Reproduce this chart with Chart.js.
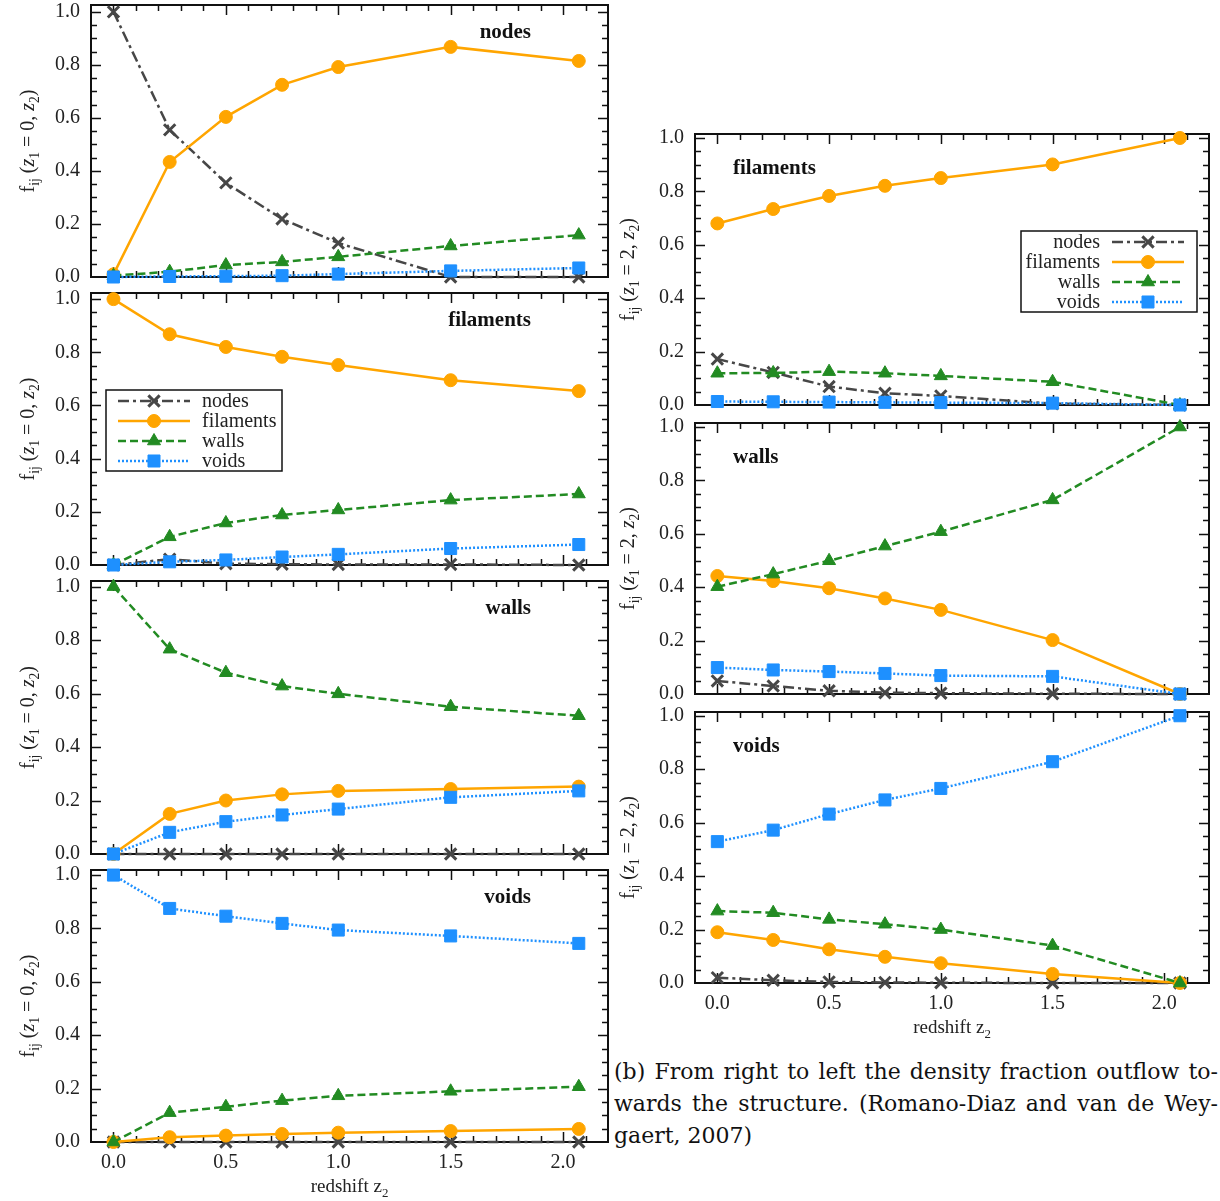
<!DOCTYPE html>
<html lang="en">
<head>
<meta charset="UTF-8">
<title>Density fraction flow between structures</title>
<script src="https://cdn.jsdelivr.net/npm/chart.js"></script>
<style>
    body { margin: 0; background: #fff; }
    #wrap { position: relative; width: 1220px; height: 1201px; overflow: hidden; }
    #wrap canvas { position: absolute; }
    #caption {
        position: absolute; left: 614px; top: 1056px; width: 604px;
        font-family: "DejaVu Serif", serif; font-size: 22px; line-height: 32px;
        color: #111;
    }
    #caption .j { text-align: justify; text-align-last: justify; white-space: nowrap; }
</style>
</head>
<body>
<div id="wrap">
    <div id="caption">
        <div class="j">(b) From right to left the density fraction outflow to-</div>
        <div class="j">wards the structure. (Romano-Diaz and van de Wey-</div>
        <div>gaert, 2007)</div>
    </div>
</div>
<script>
// redshift z2 of each point
const redshift = [0, 0.25, 0.5, 0.75, 1.0, 1.5, 2.07];
const xTicks = [0, 0.5, 1.0, 1.5, 2.0];
const yTicks = [0, 0.2, 0.4, 0.6, 0.8, 1.0];

// left column, z1 = 0 : outflow from nodes / filaments / walls / voids
const l1Nodes     = [1.0, 0.555, 0.355, 0.219, 0.128, 0.0, 0.0];
const l1Filaments = [0.01, 0.434, 0.604, 0.725, 0.792, 0.868, 0.815];
const l1Walls     = [0.005, 0.02, 0.045, 0.057, 0.076, 0.117, 0.158];
const l1Voids     = [0.0, 0.002, 0.003, 0.005, 0.011, 0.023, 0.034];

const l2Nodes     = [0.0, 0.022, 0.005, 0.003, 0.002, 0.002, 0.0];
const l2Filaments = [1.0, 0.868, 0.82, 0.783, 0.752, 0.695, 0.654];
const l2Walls     = [0.0, 0.106, 0.158, 0.188, 0.207, 0.244, 0.267];
const l2Voids     = [0.0, 0.012, 0.019, 0.03, 0.04, 0.062, 0.077];

const l3Nodes     = [0.0, 0.0, 0.0, 0.0, 0.0, 0.0, 0.0];
const l3Filaments = [0.0, 0.15, 0.2, 0.223, 0.236, 0.243, 0.252];
const l3Walls     = [1.0, 0.766, 0.678, 0.628, 0.599, 0.551, 0.517];
const l3Voids     = [0.0, 0.081, 0.121, 0.146, 0.168, 0.212, 0.236];

const l4Nodes     = [0.0, 0.0, 0.0, 0.0, 0.0, 0.0, 0.0];
const l4Filaments = [0.0, 0.018, 0.024, 0.03, 0.035, 0.041, 0.049];
const l4Walls     = [0.0, 0.11, 0.132, 0.155, 0.173, 0.19, 0.207];
const l4Voids     = [1.0, 0.875, 0.846, 0.819, 0.794, 0.772, 0.744];

// right column, z1 = 2 : inflow towards filaments / walls / voids
const r1Nodes     = [0.172, 0.122, 0.069, 0.044, 0.034, 0.005, 0.0];
const r1Filaments = [0.68, 0.734, 0.783, 0.821, 0.85, 0.901, 1.0];
const r1Walls     = [0.119, 0.12, 0.125, 0.119, 0.109, 0.087, 0.0];
const r1Voids     = [0.013, 0.012, 0.011, 0.01, 0.009, 0.007, 0.0];

const r2Nodes     = [0.049, 0.03, 0.012, 0.005, 0.003, 0.001, 0.0];
const r2Filaments = [0.442, 0.423, 0.396, 0.358, 0.315, 0.202, 0.0];
const r2Walls     = [0.402, 0.449, 0.499, 0.554, 0.608, 0.727, 1.0];
const r2Voids     = [0.099, 0.09, 0.084, 0.077, 0.069, 0.066, 0.0];

const r3Nodes     = [0.02, 0.01, 0.004, 0.002, 0.001, 0.0, 0.0];
const r3Filaments = [0.19, 0.161, 0.126, 0.098, 0.074, 0.034, 0.0];
const r3Walls     = [0.269, 0.263, 0.238, 0.22, 0.2, 0.14, 0.0];
const r3Voids     = [0.529, 0.572, 0.632, 0.685, 0.728, 0.828, 1.0];

const SERIF = '"Liberation Serif", "Times New Roman", serif';

const seriesNames = ['nodes', 'filaments', 'walls', 'voids'];
const seriesStyle = {
    nodes:     { color: '#474747', dash: [11, 4, 3, 4], point: 'crossRot', radius: 8,   bw: 3, order: 3 },
    filaments: { color: '#ffa500', dash: [],            point: 'circle',   radius: 6.5, bw: 1, order: 2 },
    walls:     { color: '#228b22', dash: [8, 4],        point: 'triangle', radius: 7.5, bw: 1, order: 1 },
    voids:     { color: '#1e90ff', dash: [2, 2],        point: 'rect',     radius: 8.5, bw: 1, order: 0 }
};

const columns = [
    { canvasLeft: 0,   left: 91,  right: 608,  titleX: 28, z1: '0' },
    { canvasLeft: 606, left: 695, right: 1213, titleX: 22, z1: '2' }
];

const panels = [
    { col: 0, top: 5,   bottom: 277,  ymax: 1.026, title: 'nodes',     values: [l1Nodes, l1Filaments, l1Walls, l1Voids] },
    { col: 0, top: 293, bottom: 565,  ymax: 1.023, title: 'filaments', values: [l2Nodes, l2Filaments, l2Walls, l2Voids], legend: 'left' },
    { col: 0, top: 581, bottom: 854,  ymax: 1.021, title: 'walls',     values: [l3Nodes, l3Filaments, l3Walls, l3Voids] },
    { col: 0, top: 870, bottom: 1142, ymax: 1.019, title: 'voids',     values: [l4Nodes, l4Filaments, l4Walls, l4Voids], xAxis: true },
    { col: 1, top: 134, bottom: 405,  ymax: 1.015, title: 'filaments', values: [r1Nodes, r1Filaments, r1Walls, r1Voids], legend: 'right' },
    { col: 1, top: 423, bottom: 694,  ymax: 1.015, title: 'walls',     values: [r2Nodes, r2Filaments, r2Walls, r2Voids] },
    { col: 1, top: 712, bottom: 983,  ymax: 1.014, title: 'voids',     values: [r3Nodes, r3Filaments, r3Walls, r3Voids], xAxis: true }
];

// text with sub/italic pieces: [text, kind] kind '' | 'i' | 's'
function drawRich(ctx, parts, x, y, size) {
    const fontFor = k => (k === 'i' ? 'italic ' : '') + (k === 's' ? size * 0.68 : size) + 'px ' + SERIF;
    let w = 0;
    parts.forEach(p => { ctx.font = fontFor(p[1]); w += ctx.measureText(p[0]).width; });
    let cx = x - w / 2;
    ctx.textAlign = 'left';
    ctx.textBaseline = 'alphabetic';
    parts.forEach(p => {
        ctx.font = fontFor(p[1]);
        ctx.fillText(p[0], cx, y + (p[1] === 's' ? size * 0.25 : 0));
        cx += ctx.measureText(p[0]).width;
    });
}

function drawMarker(ctx, s, x, y) {
    ctx.setLineDash([]);
    ctx.fillStyle = s.color;
    ctx.strokeStyle = s.color;
    ctx.lineWidth = s.bw;
    if (Chart.helpers && Chart.helpers.drawPoint) {
        Chart.helpers.drawPoint(ctx, { pointStyle: s.point, radius: s.radius, borderWidth: s.bw, rotation: 0 }, x, y);
    } else {
        ctx.beginPath(); ctx.arc(x, y, s.radius, 0, Math.PI * 2); ctx.fill();
    }
}

function drawLegend(ctx, a, side) {
    const bx = side === 'left' ? a.left + 15 : a.left + 326;
    const by = a.top + 97;
    ctx.save();
    ctx.fillStyle = '#fff';
    ctx.fillRect(bx, by, 176, 81);
    ctx.strokeStyle = '#111';
    ctx.lineWidth = 1.5;
    ctx.setLineDash([]);
    ctx.strokeRect(bx, by, 176, 81);
    seriesNames.forEach((name, i) => {
        const s = seriesStyle[name];
        const ry = by + 11 + i * 20;
        const x0 = side === 'left' ? bx + 12 : bx + 91;
        const x1 = x0 + 72;
        ctx.strokeStyle = s.color;
        ctx.lineWidth = 2.5;
        ctx.setLineDash(s.dash);
        ctx.beginPath(); ctx.moveTo(x0, ry); ctx.lineTo(x1, ry); ctx.stroke();
        drawMarker(ctx, s, (x0 + x1) / 2, ry);
        ctx.fillStyle = '#222';
        ctx.font = '20px ' + SERIF;
        ctx.textBaseline = 'middle';
        ctx.textAlign = side === 'left' ? 'left' : 'right';
        ctx.fillText(name, side === 'left' ? bx + 96 : bx + 79, ry + 1);
    });
    ctx.restore();
}

const panelDecor = {
    id: 'panelDecor',
    beforeDatasetsDraw(chart, args, opts) {
        const { ctx, chartArea: a } = chart;
        const x = chart.scales.x, y = chart.scales.y;
        ctx.save();
        ctx.strokeStyle = '#111';
        ctx.lineWidth = 1.5;
        ctx.beginPath();
        for (let i = 0; i <= 21; i++) {
            const px = Math.round(x.getPixelForValue(i / 10)) + 0.5;
            const len = i % 5 === 0 ? 10 : 6;
            ctx.moveTo(px, a.bottom); ctx.lineTo(px, a.bottom - len);
            ctx.moveTo(px, a.top); ctx.lineTo(px, a.top + len);
        }
        for (let i = 1; i <= 20; i++) {
            const py = Math.round(y.getPixelForValue(i / 20)) + 0.5;
            const len = i % 4 === 0 ? 10 : 6;
            ctx.moveTo(a.left, py); ctx.lineTo(a.left + len, py);
            ctx.moveTo(a.right, py); ctx.lineTo(a.right - len, py);
        }
        ctx.stroke();
        ctx.lineWidth = 2;
        ctx.strokeRect(a.left, a.top, a.right - a.left, a.bottom - a.top);
        ctx.restore();
    },
    afterDatasetsDraw(chart, args, opts) {
        const { ctx, chartArea: a } = chart;
        ctx.save();
        // panel name
        ctx.fillStyle = '#111';
        ctx.font = 'bold 21px ' + SERIF;
        ctx.textBaseline = 'middle';
        if (opts.col === 0) {
            ctx.textAlign = 'right';
            ctx.fillText(opts.title, a.left + 440, a.top + 28);
        } else {
            ctx.textAlign = 'left';
            ctx.fillText(opts.title, a.left + 38, a.top + 35);
        }
        // y axis title
        ctx.fillStyle = '#222';
        ctx.translate(opts.titleX, (a.top + a.bottom) / 2);
        ctx.rotate(-Math.PI / 2);
        drawRich(ctx, [['f', ''], ['ij', 's'], [' (', ''], ['z', 'i'], ['1', 's'],
                       [' = ' + opts.z1 + ', ', ''], ['z', 'i'], ['2', 's'], [')', '']], 0, 6, 20);
        ctx.restore();
        if (opts.xAxis) {
            ctx.save();
            ctx.fillStyle = '#222';
            drawRich(ctx, [['redshift z', ''], ['2', 's']], (a.left + a.right) / 2, a.bottom + 50, 19);
            ctx.restore();
        }
        if (opts.legend) drawLegend(ctx, a, opts.legend);
    }
};

const wrap = document.getElementById('wrap');

panels.forEach(p => {
    const col = columns[p.col];
    const padTop = 16;
    const padBottom = p.xAxis ? 58 : 16;
    const padRight = 1220 - col.right > 12 ? 12 : 1220 - col.right;
    const width = col.right + padRight - col.canvasLeft;
    const height = p.bottom - p.top + padTop + padBottom;

    const canvas = document.createElement('canvas');
    canvas.width = width;
    canvas.height = height;
    canvas.style.left = col.canvasLeft + 'px';
    canvas.style.top = (p.top - padTop) + 'px';
    canvas.style.width = width + 'px';
    canvas.style.height = height + 'px';
    wrap.appendChild(canvas);

    const datasets = seriesNames.map((name, k) => {
        const s = seriesStyle[name];
        return {
            label: name,
            data: redshift.map((z, i) => ({ x: z, y: p.values[k][i] })),
            borderColor: s.color,
            backgroundColor: s.color,
            borderWidth: 2.5,
            borderDash: s.dash,
            pointStyle: s.point,
            pointRadius: s.radius,
            pointBorderWidth: s.bw,
            pointBackgroundColor: s.color,
            pointBorderColor: s.color,
            tension: 0,
            clip: false,
            order: s.order
        };
    });

    const chart = new Chart(canvas, {
        type: 'line',
        data: { datasets: datasets },
        options: {
            responsive: false,
            maintainAspectRatio: false,
            animation: false,
            events: [],
            layout: { padding: { top: padTop, right: padRight, bottom: p.xAxis ? 0 : padBottom, left: 0 } },
            scales: {
                x: {
                    type: 'linear',
                    min: -0.1,
                    max: 2.2,
                    display: !!p.xAxis,
                    afterFit: s => { if (p.xAxis) s.height = padBottom; },
                    afterBuildTicks: s => { s.ticks = xTicks.map(v => ({ value: v })); },
                    grid: { display: false, drawTicks: false },
                    border: { display: false },
                    ticks: {
                        padding: 9,
                        color: '#222',
                        font: { family: SERIF, size: 20 },
                        callback: v => v.toFixed(1)
                    }
                },
                y: {
                    type: 'linear',
                    min: 0,
                    max: p.ymax,
                    afterFit: s => { s.width = col.left - col.canvasLeft; },
                    afterBuildTicks: s => { s.ticks = yTicks.map(v => ({ value: v })); },
                    grid: { display: false, drawTicks: false },
                    border: { display: false },
                    ticks: {
                        padding: 11,
                        color: '#222',
                        font: { family: SERIF, size: 20 },
                        callback: v => v.toFixed(1)
                    }
                }
            },
            plugins: {
                legend: { display: false },
                tooltip: { enabled: false },
                panelDecor: {
                    col: p.col,
                    title: p.title,
                    z1: col.z1,
                    titleX: col.titleX,
                    xAxis: p.xAxis,
                    legend: p.legend
                }
            }
        },
        plugins: [panelDecor]
    });

    // line the plot frame up with the wanted box: grow the canvas by whatever the layout took
    const a = chart.chartArea;
    const dt = Math.round(a.top - padTop);
    const db = Math.round((height - padBottom) - a.bottom);
    if (dt !== 0 || db !== 0) {
        const h2 = height + dt + db;
        canvas.style.top = (p.top - padTop - dt) + 'px';
        chart.resize(width, h2);
    }
});
</script>
</body>
</html>
